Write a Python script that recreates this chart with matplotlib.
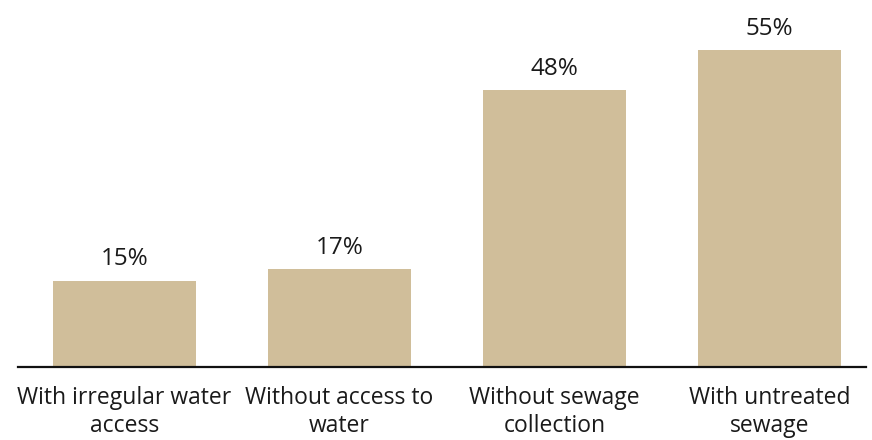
import matplotlib.pyplot as plt

categories = ["With irregular water\naccess", "Without access to\nwater",
              "Without sewage\ncollection", "With untreated\nsewage"]
values = [15, 17, 48, 55]

plt.rcParams["font.family"] = ["Open Sans", "DejaVu Sans"]

fig = plt.figure(figsize=(8.72, 4.4), dpi=100)
ax = fig.add_axes([18 / 872, 73 / 440, 848 / 872, 367 / 440])

x = range(len(values))
bars = ax.bar(x, values, width=0.665, color="#D0BE9A")
for xi, v in zip(x, values):
    ax.annotate(f"{v}%", (xi, v), textcoords="offset points", xytext=(0, 11),
                ha="center", va="baseline", fontsize=17.5, color="#1a1a1a")

ax.set_xlim(-0.495, 3.449)
ax.set_ylim(0, 63.7)
ax.set_xticks(list(x))
ax.set_xticklabels(categories, fontsize=16.5, color="#1a1a1a", linespacing=1.2)
ax.tick_params(axis="x", length=0, pad=14)
ax.set_yticks([])
for s in ["top", "right", "left"]:
    ax.spines[s].set_visible(False)
ax.spines["bottom"].set_linewidth(1.6)
ax.spines["bottom"].set_color("#111111")

fig.savefig("out.png", dpi=100)
